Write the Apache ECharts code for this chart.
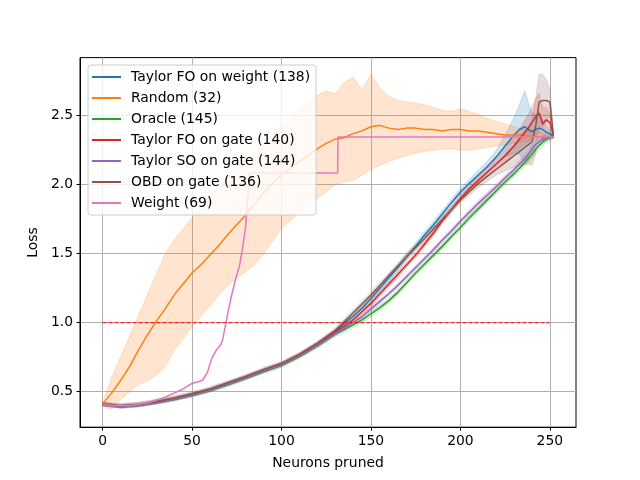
<!DOCTYPE html>
<html>
<head>
<meta charset="utf-8">
<script src="https://cdn.jsdelivr.net/npm/echarts@6/dist/echarts.min.js"></script>
<style>
  html, body { margin: 0; padding: 0; background: #fff; }
  #chart { width: 640px; height: 480px; }
</style>
</head>
<body>
<div id="chart"></div>
<script>
// neurons pruned (x) for the gradient-based methods
const xs = [0, 10, 20, 30, 40, 50, 60, 70, 80, 90, 100, 110, 120, 130,
  135, 140, 145, 150, 155, 160, 165, 170, 175, 180, 185, 190, 195, 200, 205, 210, 215, 220, 225, 230,
  233, 236, 238, 240, 242, 244, 246, 248, 250, 252]

const taylorFoWeight = [0.41, 0.395, 0.405, 0.425, 0.45, 0.48, 0.515, 0.56, 0.605, 0.655, 0.70, 0.765, 0.845, 0.935,
  0.995, 1.045, 1.105, 1.175, 1.25, 1.325, 1.40, 1.48, 1.555, 1.635, 1.71, 1.79, 1.87, 1.945, 2.01, 2.07, 2.13, 2.20, 2.28, 2.36,
  2.40, 2.42, 2.40, 2.385, 2.40, 2.41, 2.40, 2.38, 2.37, 2.35]
const taylorFoWeightSpread = [0.012, 0.012, 0.012, 0.012, 0.012, 0.012, 0.012, 0.012, 0.012, 0.012, 0.012, 0.012, 0.012, 0.015,
  0.025, 0.025, 0.025, 0.025, 0.025, 0.025, 0.025, 0.025, 0.025, 0.025, 0.025, 0.025, 0.025, 0.025, 0.03, 0.035, 0.04, 0.05, 0.08, 0.13,
  0.18, 0.26, 0.19, 0.14, 0.11, 0.09, 0.07, 0.05, 0.03, 0.01]

const oracle = [0.41, 0.39, 0.40, 0.42, 0.443, 0.472, 0.507, 0.55, 0.595, 0.645, 0.69, 0.755, 0.83, 0.915,
  0.95, 0.985, 1.02, 1.065, 1.11, 1.16, 1.22, 1.29, 1.36, 1.425, 1.49, 1.555, 1.625, 1.69, 1.76, 1.825, 1.89, 1.955, 2.02, 2.08,
  2.12, 2.16, 2.19, 2.22, 2.255, 2.285, 2.31, 2.33, 2.34, 2.35]
const oracleSpread = [0.01, 0.01, 0.01, 0.01, 0.01, 0.01, 0.012, 0.012, 0.012, 0.012, 0.015, 0.015, 0.015, 0.015,
  0.018, 0.018, 0.018, 0.018, 0.018, 0.018, 0.018, 0.018, 0.018, 0.018, 0.018, 0.018, 0.018, 0.018, 0.02, 0.02, 0.02, 0.02, 0.02, 0.02,
  0.025, 0.025, 0.03, 0.03, 0.03, 0.03, 0.03, 0.025, 0.02, 0.01]

const taylorFoGate = [0.41, 0.395, 0.405, 0.425, 0.45, 0.48, 0.515, 0.56, 0.605, 0.655, 0.70, 0.765, 0.845, 0.93,
  0.975, 1.02, 1.08, 1.14, 1.21, 1.28, 1.35, 1.42, 1.49, 1.57, 1.65, 1.74, 1.82, 1.90, 1.97, 2.03, 2.09, 2.15, 2.21, 2.28,
  2.33, 2.38, 2.41, 2.45, 2.49, 2.52, 2.44, 2.47, 2.45, 2.36]
const taylorFoGateSpread = [0.01, 0.01, 0.01, 0.01, 0.01, 0.01, 0.01, 0.01, 0.012, 0.012, 0.012, 0.015, 0.015, 0.015,
  0.02, 0.02, 0.02, 0.02, 0.02, 0.02, 0.02, 0.02, 0.02, 0.02, 0.02, 0.02, 0.02, 0.02, 0.025, 0.03, 0.03, 0.04, 0.05, 0.06,
  0.07, 0.09, 0.10, 0.11, 0.13, 0.14, 0.12, 0.09, 0.06, 0.02]

const taylorSoGate = [0.41, 0.39, 0.40, 0.42, 0.445, 0.475, 0.51, 0.555, 0.60, 0.65, 0.695, 0.76, 0.835, 0.92,
  0.96, 1.00, 1.045, 1.10, 1.155, 1.21, 1.27, 1.335, 1.40, 1.465, 1.53, 1.60, 1.665, 1.735, 1.80, 1.865, 1.925, 1.985, 2.05, 2.11,
  2.15, 2.19, 2.22, 2.26, 2.29, 2.31, 2.33, 2.34, 2.345, 2.35]
const taylorSoGateSpread = [0.01, 0.01, 0.01, 0.01, 0.01, 0.01, 0.01, 0.01, 0.01, 0.012, 0.012, 0.012, 0.012, 0.012,
  0.015, 0.015, 0.015, 0.015, 0.015, 0.015, 0.015, 0.015, 0.015, 0.015, 0.015, 0.015, 0.015, 0.015, 0.02, 0.02, 0.02, 0.02, 0.02, 0.02,
  0.025, 0.025, 0.03, 0.03, 0.03, 0.03, 0.03, 0.025, 0.02, 0.01]

const obdGate = [0.41, 0.40, 0.41, 0.43, 0.455, 0.485, 0.52, 0.565, 0.61, 0.66, 0.705, 0.77, 0.85, 0.945,
  1.005, 1.07, 1.135, 1.20, 1.27, 1.34, 1.41, 1.48, 1.545, 1.61, 1.68, 1.75, 1.82, 1.89, 1.95, 2.01, 2.06, 2.11, 2.16, 2.21,
  2.24, 2.27, 2.29, 2.31, 2.42, 2.60, 2.61, 2.61, 2.60, 2.35]
const obdGateSpread = [0.015, 0.015, 0.015, 0.015, 0.015, 0.015, 0.015, 0.015, 0.015, 0.015, 0.015, 0.015, 0.015, 0.015,
  0.02, 0.02, 0.02, 0.02, 0.02, 0.02, 0.02, 0.02, 0.02, 0.02, 0.02, 0.02, 0.02, 0.02, 0.025, 0.03, 0.035, 0.04, 0.06, 0.08,
  0.10, 0.12, 0.14, 0.17, 0.20, 0.20, 0.19, 0.15, 0.10, 0.02]

// random pruning, mean and min/max band
const randomX = [0, 5, 10, 15, 20, 25, 30, 35, 40, 45, 50, 55, 60, 65, 70, 75, 80, 85, 90, 95, 100,
  105, 110, 115, 120, 125, 130, 135, 140, 145, 150, 155, 160, 165, 170, 175, 180, 185, 190, 195, 200,
  205, 210, 215, 220, 225, 230, 235, 240, 245, 250, 252]
const random = [0.41, 0.49, 0.58, 0.68, 0.80, 0.91, 1.01, 1.10, 1.20, 1.28, 1.36, 1.42, 1.49, 1.56, 1.64, 1.71, 1.78, 1.86, 1.94, 2.01, 2.07,
  2.12, 2.17, 2.21, 2.26, 2.30, 2.33, 2.34, 2.37, 2.39, 2.42, 2.43, 2.41, 2.40, 2.41, 2.41, 2.40, 2.40, 2.39, 2.40, 2.40,
  2.39, 2.39, 2.38, 2.37, 2.36, 2.36, 2.36, 2.35, 2.35, 2.35, 2.35]
const randomHigh = [0.42, 0.60, 0.75, 0.90, 1.05, 1.20, 1.35, 1.50, 1.60, 1.68, 1.76, 1.84, 1.91, 1.98, 2.05, 2.12, 2.18, 2.24, 2.30, 2.36, 2.42,
  2.48, 2.55, 2.60, 2.65, 2.68, 2.66, 2.74, 2.78, 2.69, 2.80, 2.70, 2.64, 2.61, 2.60, 2.59, 2.58, 2.56, 2.54, 2.53, 2.55,
  2.53, 2.51, 2.48, 2.46, 2.44, 2.42, 2.40, 2.39, 2.38, 2.37, 2.36]
const randomLow = [0.40, 0.37, 0.44, 0.50, 0.55, 0.58, 0.62, 0.68, 0.80, 0.88, 0.97, 1.05, 1.12, 1.20, 1.27, 1.32, 1.37, 1.42, 1.50, 1.59, 1.68,
  1.74, 1.80, 1.85, 1.90, 1.95, 2.00, 2.02, 2.03, 2.07, 2.11, 2.14, 2.17, 2.19, 2.21, 2.23, 2.24, 2.25, 2.26, 2.26, 2.25,
  2.25, 2.26, 2.27, 2.28, 2.29, 2.30, 2.31, 2.32, 2.33, 2.33, 2.34]

// weight magnitude pruning
const weightX = [0, 5, 10, 15, 20, 25, 30, 35, 40, 45, 50, 53, 56, 58.6, 61, 63.5, 66, 67, 69, 70, 72, 74, 76.5, 78.4, 80, 81, 82, 82.5,
  131.4, 131.6, 252]
const weight = [0.41, 0.40, 0.40, 0.40, 0.41, 0.42, 0.44, 0.46, 0.49, 0.52, 0.56, 0.57, 0.585, 0.64, 0.74, 0.80, 0.84, 0.87, 1.0, 1.07, 1.19, 1.30, 1.41, 1.55, 1.70, 1.89, 2.0, 2.085,
  2.085, 2.345, 2.345]

const threshold = 1.0
const xTicks = [0, 50, 100, 150, 200, 250]
const yTicks = [0.5, 1.0, 1.5, 2.0, 2.5]

const names = ['Taylor FO on weight (138)', 'Random (32)', 'Oracle (145)', 'Taylor FO on gate (140)',
  'Taylor SO on gate (144)', 'OBD on gate (136)', 'Weight (69)']
const colors = ['#1f77b4', '#ff7f0e', '#2ca02c', '#d62728', '#9467bd', '#8c564b', '#e377c2']

const chart = echarts.init(document.getElementById('chart'))

function pairs (x, y) {
  return x.map((v, i) => [v, y[i]])
}

function rgba (hex, a) {
  const n = parseInt(hex.slice(1), 16)
  return `rgba(${n >> 16},${(n >> 8) & 255},${n & 255},${a})`
}

function band (x, lo, hi, color, alpha) {
  return {
    type: 'custom',
    silent: true,
    z: 1,
    data: [[x[0], lo[0]]],
    renderItem (params, api) {
      const pts = []
      for (let i = 0; i < x.length; i++) pts.push(api.coord([x[i], hi[i]]))
      for (let i = x.length - 1; i >= 0; i--) pts.push(api.coord([x[i], lo[i]]))
      return {
        type: 'polygon',
        shape: { points: pts },
        style: { fill: rgba(color, alpha), stroke: rgba(color, alpha), lineWidth: 1 }
      }
    }
  }
}

function spreadBand (mean, spread, color) {
  return band(xs, mean.map((v, i) => v - spread[i]), mean.map((v, i) => v + spread[i]), color, 0.2)
}

function line (name, x, y, color) {
  return {
    name,
    type: 'line',
    data: pairs(x, y),
    color,
    symbol: 'none',
    z: 2,
    lineStyle: { width: 1.5, color }
  }
}

const font = 'DejaVu Sans'

const option = {
  animation: false,
  grid: {
    left: 80,
    right: 64,
    top: 57.6,
    bottom: 52.8,
    show: true,
    borderColor: '#000',
    borderWidth: 1
  },
  legend: {
    data: names,
    orient: 'vertical',
    left: 88,
    top: 65,
    icon: 'rect',
    itemWidth: 29,
    itemHeight: 2,
    itemGap: 7,
    padding: [5, 6, 5, 4],
    backgroundColor: 'rgba(255,255,255,0.8)',
    borderColor: '#cccccc',
    borderWidth: 1,
    borderRadius: 3,
    selectedMode: false,
    textStyle: { fontFamily: font, fontSize: 13.9, color: '#000', lineHeight: 14, padding: [0, 0, 0, 5] }
  },
  xAxis: {
    type: 'value',
    min: -12.6,
    max: 264.6,
    name: 'Neurons pruned',
    nameLocation: 'middle',
    nameGap: 29,
    nameTextStyle: { fontFamily: font, fontSize: 13.9, color: '#000' },
    axisLine: { show: true, onZero: false, lineStyle: { color: '#000', width: 1 } },
    axisTick: { show: true, length: 3.5, customValues: xTicks, lineStyle: { color: '#000', width: 1 } },
    axisLabel: { customValues: xTicks, margin: 7, fontFamily: font, fontSize: 13.9, color: '#000' },
    splitLine: { show: true, lineStyle: { color: '#b0b0b0', width: 1 } }
  },
  yAxis: {
    type: 'value',
    min: 0.243,
    max: 2.921,
    name: 'Loss',
    nameLocation: 'middle',
    nameGap: 35,
    nameTextStyle: { fontFamily: font, fontSize: 13.9, color: '#000' },
    axisLine: { show: true, onZero: false, lineStyle: { color: '#000', width: 1 } },
    axisTick: { show: true, length: 3.5, customValues: yTicks, lineStyle: { color: '#000', width: 1 } },
    axisLabel: {
      customValues: yTicks,
      margin: 7,
      fontFamily: font,
      fontSize: 13.9,
      color: '#000',
      formatter: v => v.toFixed(1)
    },
    splitLine: { show: true, lineStyle: { color: '#b0b0b0', width: 1 } }
  },
  series: [
    spreadBand(taylorFoWeight, taylorFoWeightSpread, colors[0]),
    band(randomX, randomLow, randomHigh, colors[1], 0.2),
    spreadBand(oracle, oracleSpread, colors[2]),
    spreadBand(taylorFoGate, taylorFoGateSpread, colors[3]),
    spreadBand(taylorSoGate, taylorSoGateSpread, colors[4]),
    spreadBand(obdGate, obdGateSpread, colors[5]),
    line(names[0], xs, taylorFoWeight, colors[0]),
    line(names[1], randomX, random, colors[1]),
    line(names[2], xs, oracle, colors[2]),
    line(names[3], xs, taylorFoGate, colors[3]),
    line(names[4], xs, taylorSoGate, colors[4]),
    line(names[5], xs, obdGate, colors[5]),
    line(names[6], weightX, weight, colors[6]),
    {
      type: 'line',
      data: [[0, threshold], [250, threshold]],
      symbol: 'none',
      z: 3,
      silent: true,
      lineStyle: { color: '#ff0000', width: 1, type: [4, 2] }
    }
  ]
}

option && chart.setOption(option)
</script>
</body>
</html>
